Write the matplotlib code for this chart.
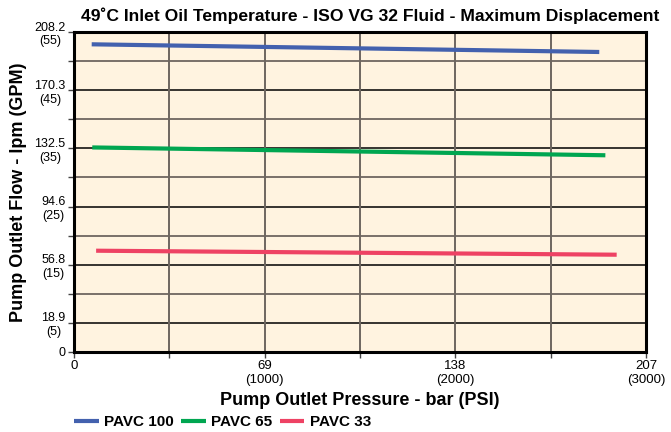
import matplotlib
matplotlib.use("Agg")
import matplotlib.pyplot as plt
from matplotlib import font_manager

# Data
series_names = ["PAVC 100", "PAVC 65", "PAVC 33"]
series_colors = ["#4361AE", "#00A651", "#EE4264"]
pressure_bar = [[6.4, 190.1], [6.6, 192.3], [8.0, 196.4]]
flow_lpm = [[200.2, 195.2], [133.1, 128.0], [65.9, 63.3]]

x_ticks = [0, 69, 138, 207]
x_tick_labels = ["0", "69\n(1000)", "138\n(2000)", "207\n(3000)"]
x_minor = [34.5, 103.5, 172.5]
y_ticks = [0, 18.9, 56.8, 94.6, 132.5, 170.3, 208.2]
y_tick_labels = ["0", "18.9\n(5)", "56.8\n(15)", "94.6\n(25)", "132.5\n(35)", "170.3\n(45)", "208.2\n(55)"]
y_minor = [37.85, 75.7, 113.55, 151.4, 189.25]

names = {f.name for f in font_manager.fontManager.ttflist}
narrow = "Liberation Sans Narrow" if "Liberation Sans Narrow" in names else "Liberation Sans"
plt.rcParams["font.family"] = ["Liberation Sans", "DejaVu Sans"]

fig = plt.figure(figsize=(6.71, 4.32), dpi=100)
ax = fig.add_axes([0.1103, 0.1852, 0.8524, 0.7407])
ax.set_facecolor("#FFF3E0")

# grid
for yv in y_ticks[1:-1]:
    ax.axhline(yv, color="black", lw=1.1, zorder=1)
for yv in y_minor:
    ax.axhline(yv, color="#6E6660", lw=1.3, zorder=1)
for xv in x_ticks[1:-1] + x_minor:
    ax.axvline(xv, color="#6E6660", lw=1.4, zorder=1)

for name, c, xs, ys in zip(series_names, series_colors, pressure_bar, flow_lpm):
    ax.plot(xs, ys, color=c, lw=3.0, label=name, solid_capstyle="butt", zorder=3)

ax.set_xlim(0, 207)
ax.set_ylim(0, 208.2)
ax.set_xticks(x_ticks)
ax.set_xticklabels(x_tick_labels, fontfamily=narrow, fontsize=9.5)
ax.set_xticks(x_minor, minor=True)
ax.set_yticks(y_ticks)
ax.set_yticklabels(y_tick_labels, fontfamily=narrow, fontsize=9, multialignment="center")
ax.set_yticks(y_minor, minor=True)
ax.tick_params(axis="both", which="both", length=4, width=1, color="#444444", pad=2)

for s in ax.spines.values():
    s.set_linewidth(2.2)
    s.set_color("black")

ax.set_title("49˚C Inlet Oil Temperature - ISO VG 32 Fluid - Maximum Displacement",
             fontsize=12.6, fontweight="bold", pad=8, x=0.518)
ax.set_xlabel("Pump Outlet Pressure - bar (PSI)", fontsize=13, fontweight="bold", labelpad=4)
ax.set_ylabel("Pump Outlet Flow - lpm (GPM)", fontsize=13, fontweight="bold")
ax.yaxis.set_label_coords(-0.083, 0.5)

leg = fig.legend(loc="lower left", bbox_to_anchor=(0.09, -0.025), ncol=3, frameon=False,
                 handlelength=1.6, handletextpad=0.35, columnspacing=0.5,
                 prop={"weight": "bold", "size": 11})

fig.savefig("out.png", dpi=100)
